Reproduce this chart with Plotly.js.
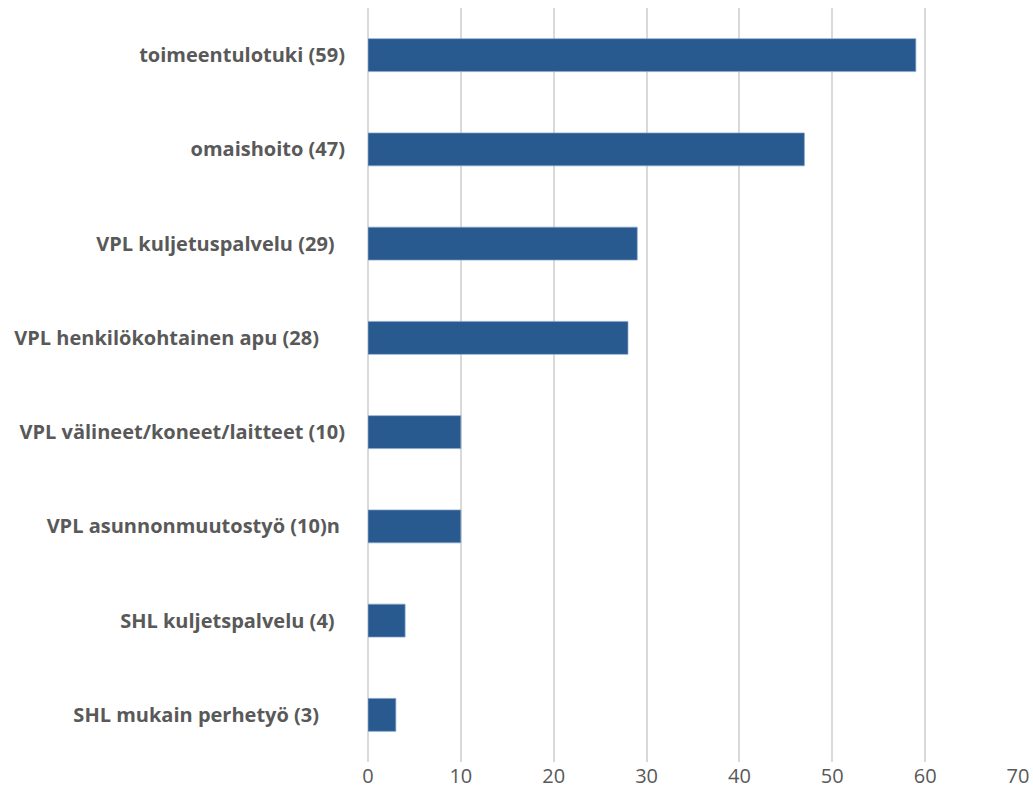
<!DOCTYPE html>
<html>
<head>
<meta charset="utf-8">
<script src="https://cdn.plot.ly/plotly-3.0.1.min.js"></script>
<style>html,body{margin:0;padding:0;background:#fff;}#chart{width:1033px;height:806px;}</style>
</head>
<body>
<div id="chart"></div>
<script>
const categories = [
  "toimeentulotuki (59)",
  "omaishoito (47)",
  "VPL kuljetuspalvelu (29)\u00A0\u00A0",
  "VPL henkilökohtainen apu (28)\u00A0\u00A0\u00A0\u00A0\u00A0",
  "VPL välineet/koneet/laitteet (10)",
  "VPL asunnonmuutostyö (10)n\u00A0",
  "SHL kuljetspalvelu (4)\u00A0\u00A0",
  "SHL mukain perhetyö (3)\u00A0\u00A0\u00A0\u00A0\u00A0"
];
const values = [59, 47, 29, 28, 10, 10, 4, 3];
const xTicks = [0, 10, 20, 30, 40, 50, 60, 70];

const trace = {
  type: 'bar',
  orientation: 'h',
  x: values,
  y: categories,
  marker: {color: '#285a90', line: {color: 'rgba(140,170,205,0.7)', width: 1}},
  hoverinfo: 'x+y'
};

const layout = {
  width: 1033, height: 806,
  margin: {l: 368, r: 15, t: 8, b: 44},
  paper_bgcolor: '#fff', plot_bgcolor: '#fff',
  showlegend: false,
  bargap: 0.65,
  xaxis: {
    range: [0, 70],
    tickvals: xTicks,
    ticktext: xTicks.map(String),
    showgrid: true, gridcolor: '#d9d9d9', gridwidth: 2,
    zeroline: true, zerolinecolor: '#d9d9d9', zerolinewidth: 2,
    showline: false,
    ticks: '', ticklen: 0,
    tickfont: {family: 'Open Sans, sans-serif', size: 20, color: '#595959'}
  },
  yaxis: {
    autorange: 'reversed',
    showgrid: false, zeroline: false, showline: false,
    ticks: 'outside', ticklen: 18, tickcolor: 'rgba(0,0,0,0)',
    tickfont: {family: 'Open Sans, sans-serif', size: 20, color: '#595959', weight: 'bold'}
  }
};

Plotly.newPlot('chart', [trace], layout, {displayModeBar: false, staticPlot: true});
</script>
</body>
</html>
